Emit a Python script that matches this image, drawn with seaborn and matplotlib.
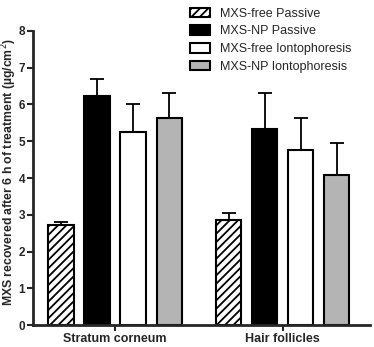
import matplotlib
matplotlib.use('Agg')
import matplotlib.pyplot as plt
import numpy as np
import pandas as pd
import seaborn as sns

# dati
sites = ['Stratum corneum', 'Hair follicles']
treatments = ['MXS-free Passive', 'MXS-NP Passive', 'MXS-free Iontophoresis', 'MXS-NP Iontophoresis']
means_sc = [2.71, 6.24, 5.24, 5.63]
means_hf = [2.87, 5.34, 4.75, 4.09]
err_sc = [0.09, 0.45, 0.76, 0.68]
err_hf = [0.18, 0.98, 0.87, 0.85]

colors = ['white', 'black', 'white', '#b4b4b4']
hatches = ['////', '', '', '']

sns.set_style('ticks')
plt.rcParams['font.family'] = ['Liberation Sans', 'DejaVu Sans']
plt.rcParams['hatch.linewidth'] = 1.3

df = pd.DataFrame({
    'site': np.repeat(sites, len(treatments)),
    'treatment': treatments * len(sites),
    'value': means_sc + means_hf,
    'err': err_sc + err_hf,
})

fig = plt.figure(figsize=(3.74, 3.47), dpi=100)
ax = fig.add_axes([0.088, 0.063, 0.901, 0.848])

sns.barplot(data=df, x='site', y='value', hue='treatment', order=sites,
            hue_order=treatments, palette=colors, width=0.86, gap=0.3,
            edgecolor='black', linewidth=1.5, errorbar=None, ax=ax)

# barre di errore solo verso l'alto
bar_conts = list(ax.containers)
for i, cont in enumerate(bar_conts):
    sub = df[df['treatment'] == treatments[i]]
    for bar, e in zip(cont, sub['err']):
        bar.set_hatch(hatches[i])
        xc = bar.get_x() + bar.get_width() / 2
        h = bar.get_height()
        ax.errorbar(xc, h, yerr=[[0], [e]], fmt='none', ecolor='black',
                    elinewidth=1.3, capsize=5, capthick=1.3, zorder=1)

ax.set_xlim(-0.49, 1.52)
ax.set_ylim(0, 8)
ax.set_yticks(range(0, 9))
ax.set_xlabel('')
ax.set_ylabel('MXS recovered after 6 h of treatment (µg/cm$^2$)', fontsize=8.8,
              fontweight='bold')
ax.yaxis.set_label_coords(-0.042, 0.52)
for lab in ax.get_xticklabels():
    lab.set_fontweight('bold')
    lab.set_fontsize(9)
for lab in ax.get_yticklabels():
    lab.set_fontweight('bold')
    lab.set_fontsize(8.5)
ax.tick_params(axis='both', width=1.5, length=4, pad=1.5)
sns.despine(ax=ax)
for s in ['left', 'bottom']:
    ax.spines[s].set_linewidth(2)

handles, labels = ax.get_legend_handles_labels()
ax.legend(handles[:4], labels[:4], loc='upper left', bbox_to_anchor=(0.487, 1.0),
          bbox_transform=fig.transFigure, frameon=False, fontsize=9,
          handlelength=1.6, handleheight=0.8, handletextpad=0.8,
          labelspacing=0.45, borderaxespad=0.2)
for h, hat in zip(ax.get_legend().legend_handles, hatches):
    h.set_hatch(hat)

fig.savefig('out.png', dpi=100)
